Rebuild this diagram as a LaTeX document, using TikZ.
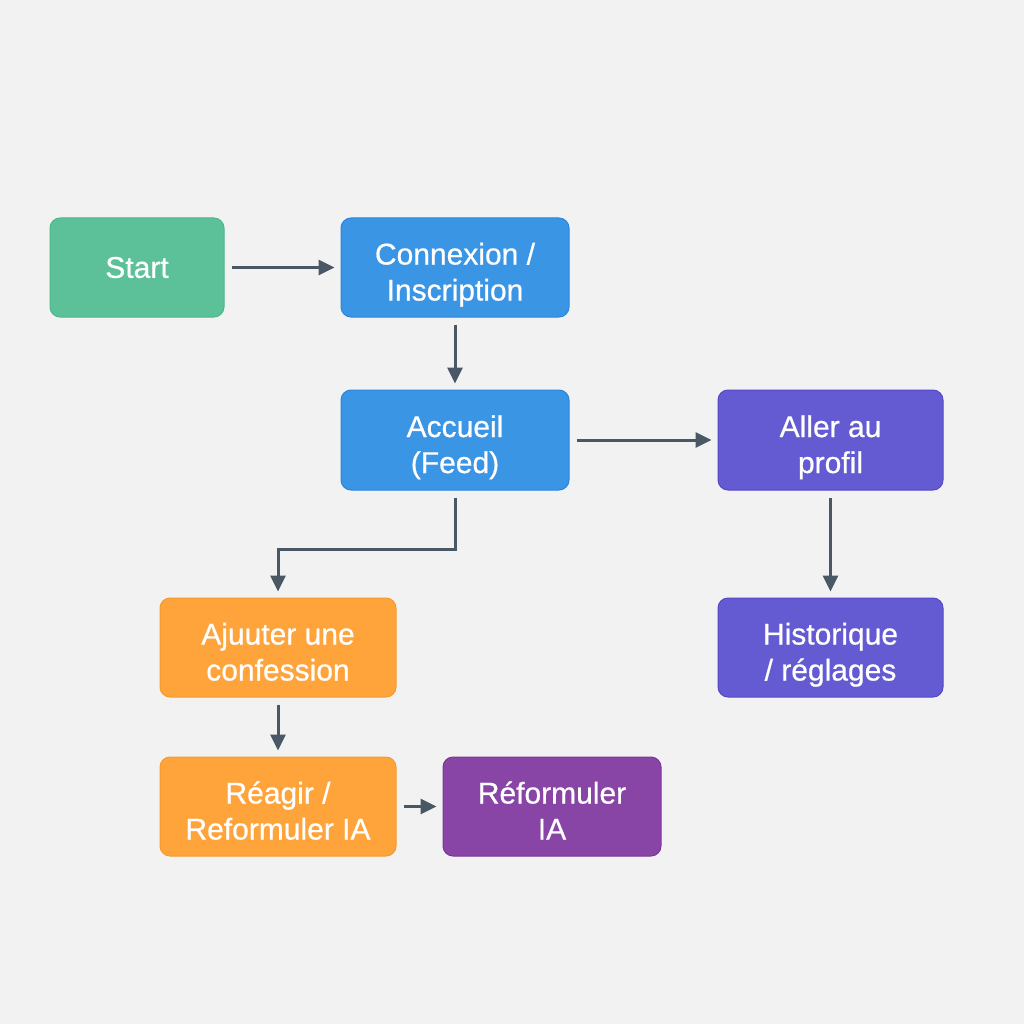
\documentclass[tikz,border=0pt]{standalone}
\usepackage{fontspec}
\setmainfont{Liberation Sans}
\newfontfamily\boxfont{Liberation Sans}[FakeBold=0.6]
\usetikzlibrary{arrows.meta}
\definecolor{bg}{HTML}{F2F2F2}
\definecolor{grn}{HTML}{5CC199}
\definecolor{grnb}{HTML}{4DB88C}
\definecolor{blu}{HTML}{3B95E5}
\definecolor{blub}{HTML}{2A85DD}
\definecolor{ind}{HTML}{645AD2}
\definecolor{indb}{HTML}{5548C8}
\definecolor{org}{HTML}{FFA33B}
\definecolor{orgb}{HTML}{F59A30}
\definecolor{pur}{HTML}{8845A5}
\definecolor{purb}{HTML}{7A3898}
\definecolor{arr}{HTML}{4A5866}
\newcommand{\twoline}[2]{\rule{0pt}{32pt}\smash{#1}\\\smash{#2}\rule[-2pt]{0pt}{2pt}}
\tikzset{
  box/.style={rounded corners=10pt, line width=1pt, minimum height=99pt, inner sep=0pt,
    align=center, text=white, font=\boxfont\fontsize{30}{36}\selectfont},
  greenbox/.style={box, fill=grn, draw=grnb},
  bluebox/.style={box, fill=blu, draw=blub},
  indbox/.style={box, fill=ind, draw=indb},
  orgbox/.style={box, fill=org, draw=orgb},
  purbox/.style={box, fill=pur, draw=purb},
  conn/.style={draw=arr, line width=3pt, -{Triangle[length=16pt,width=15pt]}, shorten <=7pt, shorten >=6pt}
}
\begin{document}
\begin{tikzpicture}[x=1pt,y=-1pt]
\fill[bg] (0,0) rectangle (1024,1024);
\useasboundingbox (0,0) rectangle (1024,1024);
\node[greenbox, minimum width=174pt] (start) at (137,267.5) {Start};
\node[bluebox, minimum width=228pt] (conn) at (455,267.5) {\twoline{Connexion /}{Inscription}};
\node[bluebox, minimum width=228pt, minimum height=100pt] (acc) at (455,440) {\twoline{Accueil}{(Feed)}};
\node[indbox, minimum width=225pt, minimum height=100pt] (prof) at (830.5,440) {\twoline{Aller au}{profil}};
\node[indbox, minimum width=225pt] (hist) at (830.5,647.5) {\twoline{Historique}{/ réglages}};
\node[orgbox, minimum width=236pt] (ajo) at (278,647.5) {\twoline{Ajuuter une}{confession}};
\node[orgbox, minimum width=236pt] (rea) at (278,806.5) {\twoline{Réagir /}{Reformuler IA}};
\node[purbox, minimum width=218pt] (ref) at (552,806.5) {\twoline{Réformuler}{IA}};
\coordinate (e1) at (455,549);
\draw[conn] (start) -- (conn);
\draw[conn] (conn) -- (acc);
\draw[conn] (acc) -- (prof);
\draw[conn] (prof) -- (hist);
\draw[conn] (acc.south) -- (e1) -| (ajo.north);
\draw[conn] (ajo) -- (rea);
\draw[conn] (rea) -- (ref);
\end{tikzpicture}
\end{document}
